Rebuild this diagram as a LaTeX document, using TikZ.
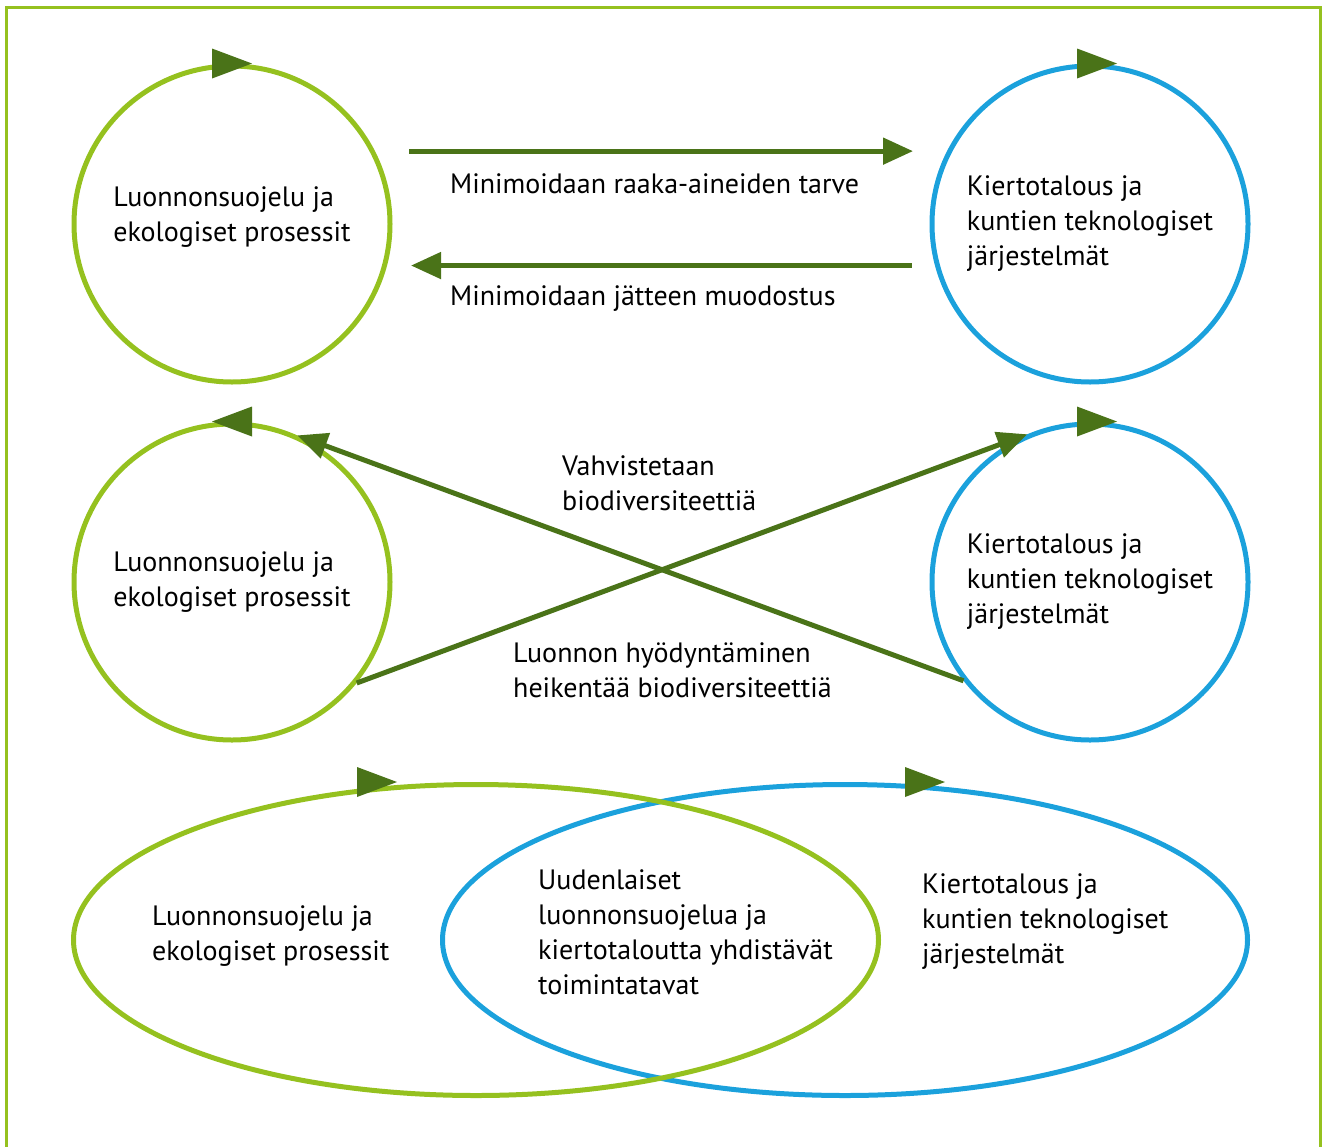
\documentclass[tikz,border=0pt]{standalone}
\usepackage{fontspec}
\setmainfont{PT Sans}
\usetikzlibrary{arrows.meta,shapes.geometric}

\definecolor{leafgreen}{HTML}{95C11F}
\definecolor{waterblue}{HTML}{1BA1DC}
\definecolor{darkleaf}{HTML}{4A7318}

\tikzset{
	ring/.style={circle, line width=5pt, minimum size=316pt, align=left, inner sep=0pt},
	oval/.style={ellipse, line width=5pt, minimum width=805pt, minimum height=311pt},
	flow/.style={line width=5pt, darkleaf, -{Triangle[length=30pt,width=26pt]}},
	txt/.style={align=left, anchor=west, inner sep=0pt},
	cycletip/.pic={\fill[darkleaf] (-20,-15) -- (20,0) -- (-20,15) -- cycle;}
}

\begin{document}
\begin{tikzpicture}[x=1pt, y=-1pt, font=\fontsize{28}{35}\selectfont]
	\useasboundingbox (0,0) rectangle (1322,1146);
	\draw[leafgreen, line width=3pt] (6,1160) -- (6,7) -- (1320,7) -- (1320,1160);

	% top row
	\node[ring, draw=leafgreen, text depth=20pt] (tl) at (232,224) {Luonnonsuojelu ja\\ekologiset prosessit};
	\node[ring, draw=waterblue] (tr) at (1090,224) {Kiertotalous ja\\kuntien teknologiset\\järjestelmät};
	\pic at (tl.north) {cycletip};
	\pic at ([xshift=7pt]tr.north) {cycletip};

	\draw[flow, shorten <=34pt, shorten >=34pt] (tl.27) -- (tr.153);
	\draw[flow, shorten <=23pt, shorten >=24pt] (tr.195.8) -- (tl.-15.8);
	\node[txt] (raw) at (450,184) {Minimoidaan raaka-aineiden tarve};
	\node[txt] (waste) at (450,299) {Minimoidaan jätteen muodostus};

	% middle row
	\node[ring, draw=leafgreen] (ml) at (232,582) {Luonnonsuojelu ja\\ekologiset prosessit};
	\node[ring, draw=waterblue] (mr) at (1090,582) {Kiertotalous ja\\kuntien teknologiset\\järjestelmät};
	\pic[rotate=180] at (ml.north) {cycletip};
	\pic at ([xshift=7pt]mr.north) {cycletip};

	\draw[flow] (mr.218.8) -- (ml.66.5);
	\draw[flow] (ml.-39.1) -- (mr.113.2);
	\node[txt] (strong) at (562,483) {Vahvistetaan\\biodiversiteettiä};
	\node[txt] (weak) at (513,670) {Luonnon hyödyntäminen\\heikentää biodiversiteettiä};

	% bottom row
	\node[oval, draw=waterblue] (br) at (845,940) {};
	\node[oval, draw=leafgreen] (bl) at (476,940) {};
	\pic at ([xshift=-99pt]bl.north) {cycletip};
	\pic at ([xshift=80pt]br.north) {cycletip};
	\node[txt] (nature) at (152,936) {Luonnonsuojelu ja\\ekologiset prosessit};
	\node[txt] (joint) at (538,932) {Uudenlaiset\\luonnonsuojelua ja\\kiertotaloutta yhdistävät\\toimintatavat};
	\node[txt] (tech) at (922,922) {Kiertotalous ja\\kuntien teknologiset\\järjestelmät};
\end{tikzpicture}
\end{document}
